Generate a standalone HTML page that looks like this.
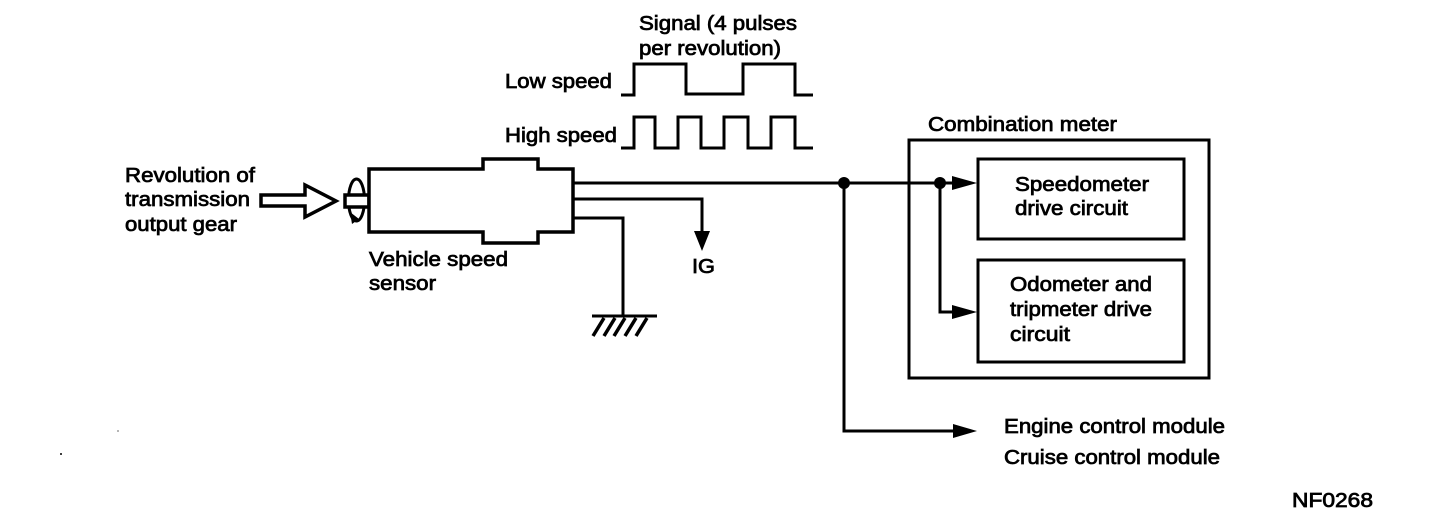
<!DOCTYPE html>
<html><head><meta charset="utf-8">
<style>
html,body{margin:0;padding:0;background:#fff;width:1440px;height:522px;overflow:hidden}
svg{display:block}
text{font-family:"Liberation Sans",sans-serif;font-size:20px;fill:#000;stroke:#000;stroke-width:.75px}
.l{fill:none;stroke:#000;stroke-width:3;stroke-linejoin:miter}
.a{fill:#000;stroke:none}
</style></head><body>
<svg width="1440" height="522" viewBox="0 0 1440 522" xmlns="http://www.w3.org/2000/svg">
<rect width="1440" height="522" fill="#fff"/>
<!-- labels -->
<text x="125" y="182" textLength="130" lengthAdjust="spacingAndGlyphs">Revolution of</text>
<text x="125" y="206" textLength="125" lengthAdjust="spacingAndGlyphs">transmission</text>
<text x="125" y="231" textLength="112" lengthAdjust="spacingAndGlyphs">output gear</text>
<text x="639" y="30" textLength="158" lengthAdjust="spacingAndGlyphs">Signal (4 pulses</text>
<text x="639" y="55" textLength="142" lengthAdjust="spacingAndGlyphs">per revolution)</text>
<text x="505" y="88" textLength="107" lengthAdjust="spacingAndGlyphs">Low speed</text>
<text x="505" y="142" textLength="112" lengthAdjust="spacingAndGlyphs">High speed</text>
<text x="928" y="131" textLength="189" lengthAdjust="spacingAndGlyphs">Combination meter</text>
<text x="1015" y="191" textLength="134" lengthAdjust="spacingAndGlyphs">Speedometer</text>
<text x="1015" y="215" textLength="113" lengthAdjust="spacingAndGlyphs">drive circuit</text>
<text x="1010" y="291" textLength="142" lengthAdjust="spacingAndGlyphs">Odometer and</text>
<text x="1010" y="316" textLength="142" lengthAdjust="spacingAndGlyphs">tripmeter drive</text>
<text x="1010" y="341" textLength="60" lengthAdjust="spacingAndGlyphs">circuit</text>
<text x="369" y="266" textLength="139" lengthAdjust="spacingAndGlyphs">Vehicle speed</text>
<text x="369" y="290" textLength="67" lengthAdjust="spacingAndGlyphs">sensor</text>
<text x="692" y="273" textLength="23" lengthAdjust="spacingAndGlyphs">IG</text>
<text x="1004" y="433" textLength="221" lengthAdjust="spacingAndGlyphs">Engine control module</text>
<text x="1004" y="464" textLength="216" lengthAdjust="spacingAndGlyphs">Cruise control module</text>
<text x="1292" y="507" textLength="81" lengthAdjust="spacingAndGlyphs">NF0268</text>
<!-- waveforms -->
<polyline class="l" points="621,95 634,95 634,64 686,64 686,94 743,94 743,64 795,64 795,95 813,95"/>
<polyline class="l" points="621,148 634,148 634,117 655,117 655,148 678,148 678,117 701,117 701,148 724,148 724,117 748,117 748,148 771,148 771,117 795,117 795,148 813,148"/>
<!-- hollow arrow -->
<polygon points="261,195 305,195 305,185 336,201 305,217 305,206 261,206" fill="#fff" stroke="#000" stroke-width="3.5"/>
<!-- rotating shaft -->
<ellipse cx="356.500" cy="200" rx="8" ry="21" fill="none" stroke="#000" stroke-width="3"/>
<path d="M350,212 L359,219 L352,224 Z" class="a"/>
<rect x="345" y="195" width="24" height="12" fill="#fff" stroke="#000" stroke-width="3.5"/>
<!-- sensor body -->
<polygon points="369,169 483,169 483,159 538,159 538,169 573,169 573,232 538,232 538,243 483,243 483,232 369,232" fill="#fff" stroke="#000" stroke-width="3.5"/>
<!-- wires -->
<line class="l" x1="573" y1="183" x2="955" y2="183"/>
<polyline class="l" points="573,199 702,199 702,235"/>
<polygon class="a" points="694,231 710,231 702,251"/>
<polyline class="l" points="573,218 623,218 623,316"/>
<line class="l" x1="592" y1="316" x2="657" y2="316"/>
<path d="M604,318 L593,336 M615,318 L604,336 M625,318 L614,336 M636,318 L625,336 M647,318 L636,336" fill="none" stroke="#000" stroke-width="3.5"/>
<!-- combination meter -->
<rect x="909" y="140" width="300" height="238" fill="none" stroke="#000" stroke-width="3"/>
<rect x="978" y="159" width="206" height="80" fill="none" stroke="#000" stroke-width="3"/>
<rect x="978" y="260" width="206" height="102" fill="none" stroke="#000" stroke-width="3"/>
<circle class="a" cx="844" cy="183" r="6"/>
<circle class="a" cx="940" cy="183" r="6"/>
<polygon class="a" points="952,176 977,183 952,190"/>
<polyline class="l" points="940,183 940,312 955,312"/>
<polygon class="a" points="952,305 977,312 952,319"/>
<polyline class="l" points="844,183 844,431 955,431"/>
<polygon class="a" points="953,424 977,431 953,438"/>
<circle class="a" cx="118" cy="431" r=".6"/>
<circle class="a" cx="61" cy="454" r="1"/>
</svg>
</body></html>
